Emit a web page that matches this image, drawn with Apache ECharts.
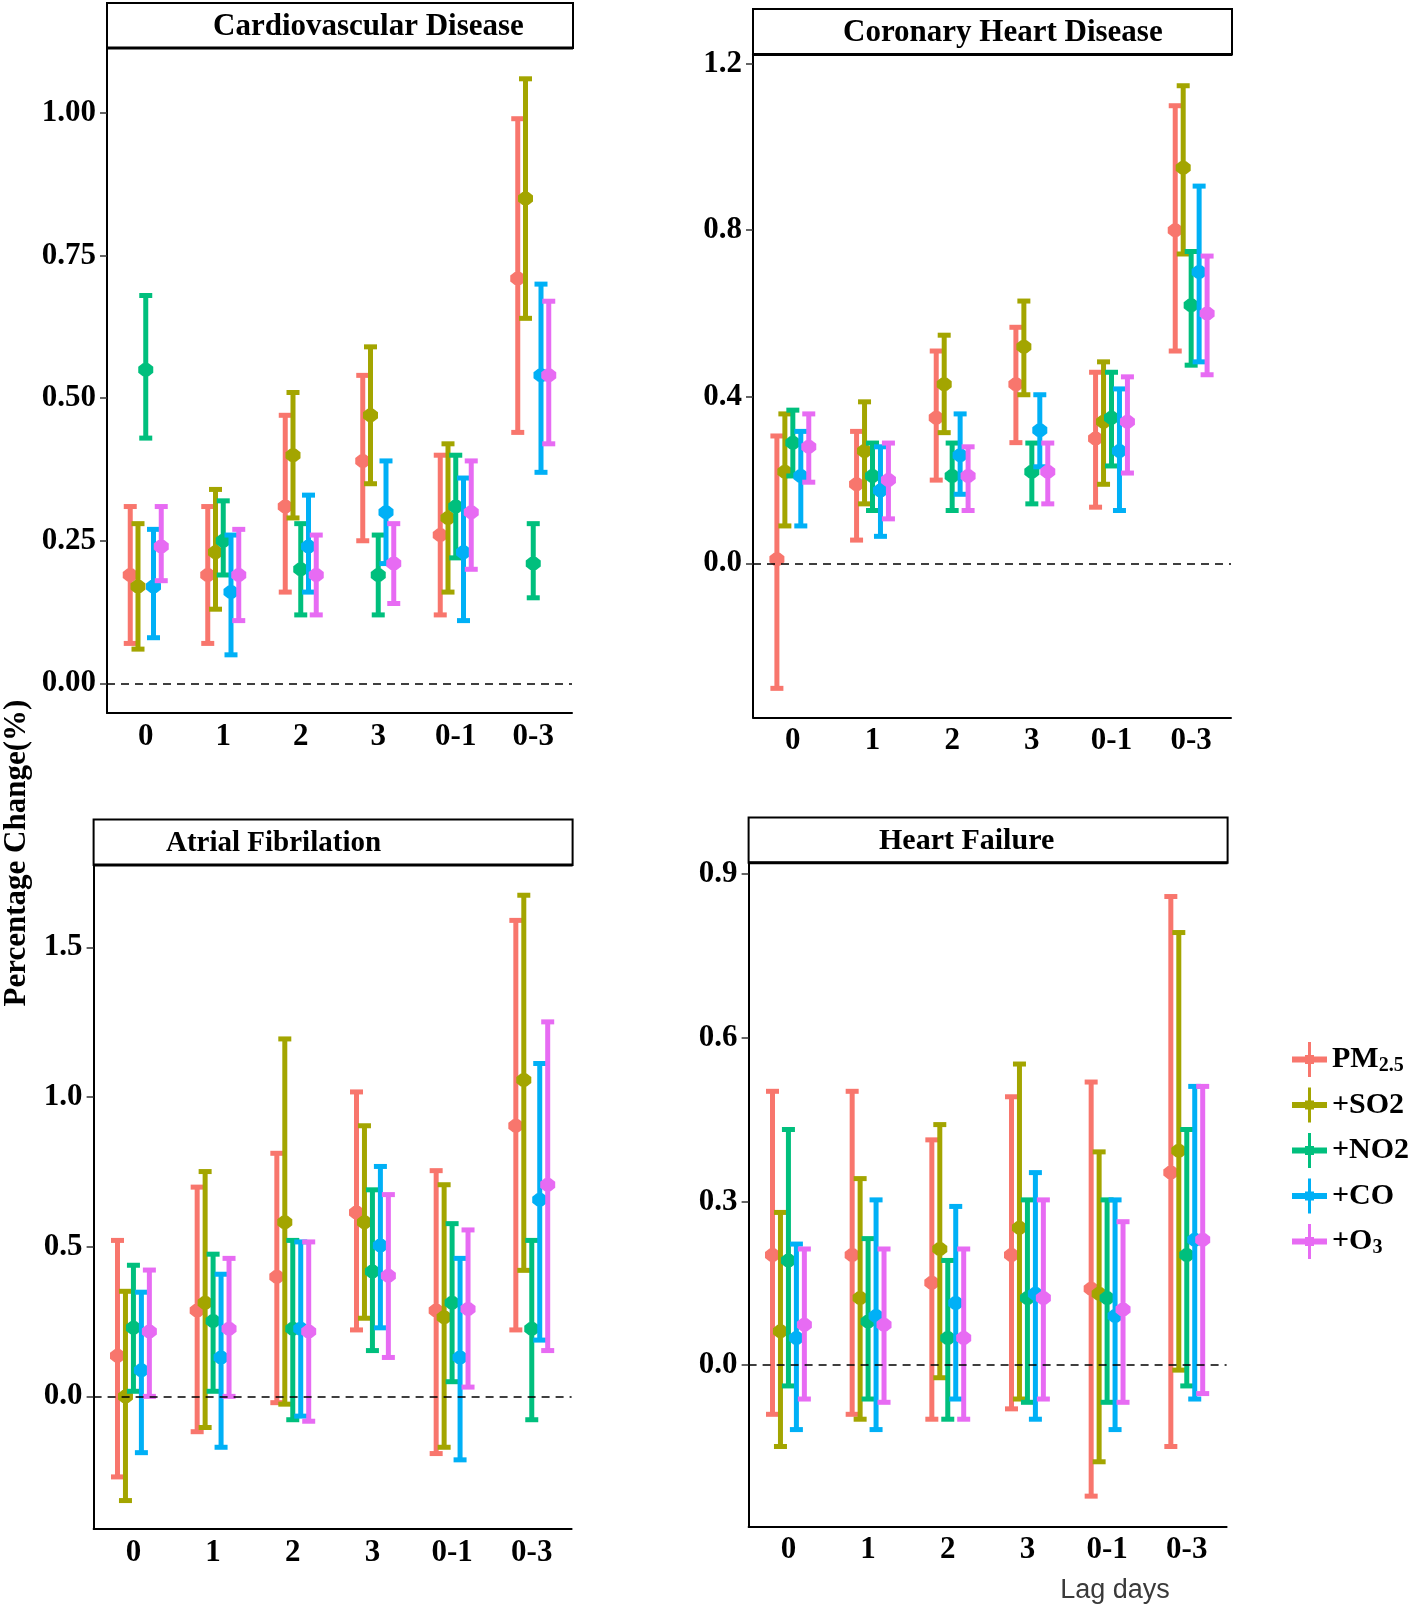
<!DOCTYPE html>
<html>
<head>
<meta charset="utf-8">
<script src="https://cdn.jsdelivr.net/npm/echarts@6/dist/echarts.min.js"></script>
<style>
  html, body { margin: 0; padding: 0; background: #fff; }
  #chart { width: 1418px; height: 1612px; }
</style>
</head>
<body>
<div id="chart"></div>
<script>
// lag days on x, five models per lag
const lagDays = ['0', '1', '2', '3', '0-1', '0-3']
const seriesNames = ['PM2.5', '+SO2', '+NO2', '+CO', '+O3']
const colors = ['#F8766D', '#A3A500', '#00BF7D', '#00B0F6', '#E76BF3']

// rows: PM2.5, +SO2, +NO2, +CO, +O3 ; cols: lagDays
const cvdEst = [
  [0.19, 0.19, 0.31, 0.39, 0.26, 0.71],
  [0.17, 0.23, 0.40, 0.47, 0.29, 0.85],
  [0.55, 0.25, 0.20, 0.19, 0.31, 0.21],
  [0.17, 0.16, 0.24, 0.30, 0.23, 0.54],
  [0.24, 0.19, 0.19, 0.21, 0.30, 0.54]
]
const cvdLow = [
  [0.07, 0.07, 0.16, 0.25, 0.12, 0.44],
  [0.06, 0.13, 0.29, 0.35, 0.16, 0.64],
  [0.43, 0.19, 0.12, 0.12, 0.22, 0.15],
  [0.08, 0.05, 0.16, 0.21, 0.11, 0.37],
  [0.18, 0.11, 0.12, 0.14, 0.20, 0.42]
]
const cvdHigh = [
  [0.31, 0.31, 0.47, 0.54, 0.40, 0.99],
  [0.28, 0.34, 0.51, 0.59, 0.42, 1.06],
  [0.68, 0.32, 0.28, 0.26, 0.40, 0.28],
  [0.27, 0.26, 0.33, 0.39, 0.36, 0.70],
  [0.31, 0.27, 0.26, 0.28, 0.39, 0.67]
]

const chdEst = [
  [0.01, 0.19, 0.35, 0.43, 0.30, 0.80],
  [0.22, 0.27, 0.43, 0.52, 0.34, 0.95],
  [0.29, 0.21, 0.21, 0.22, 0.35, 0.62],
  [0.21, 0.175, 0.26, 0.32, 0.27, 0.70],
  [0.28, 0.20, 0.21, 0.22, 0.34, 0.60]
]
const chdLow = [
  [-0.30, 0.056, 0.20, 0.29, 0.135, 0.51],
  [0.09, 0.143, 0.314, 0.405, 0.19, 0.743],
  [0.21, 0.127, 0.127, 0.143, 0.234, 0.476],
  [0.09, 0.065, 0.166, 0.232, 0.127, 0.484],
  [0.195, 0.107, 0.127, 0.143, 0.217, 0.453]
]
const chdHigh = [
  [0.306, 0.317, 0.51, 0.567, 0.459, 1.099],
  [0.359, 0.388, 0.548, 0.63, 0.484, 1.147],
  [0.368, 0.289, 0.289, 0.289, 0.459, 0.749],
  [0.317, 0.28, 0.359, 0.405, 0.419, 0.906],
  [0.359, 0.289, 0.28, 0.289, 0.448, 0.738]
]

const afEst = [
  [0.136, 0.287, 0.40, 0.614, 0.287, 0.904],
  [0.0, 0.313, 0.582, 0.582, 0.264, 1.057],
  [0.229, 0.252, 0.226, 0.417, 0.313, 0.226],
  [0.087, 0.13, 0.226, 0.504, 0.13, 0.657],
  [0.217, 0.226, 0.217, 0.403, 0.292, 0.707]
]
const afLow = [
  [-0.269, -0.118, -0.021, 0.222, -0.191, 0.222],
  [-0.348, -0.104, -0.026, 0.261, -0.17, 0.421],
  [0.017, 0.017, -0.078, 0.153, 0.049, -0.078],
  [-0.188, -0.17, -0.066, 0.229, -0.212, 0.188],
  [0.0, 0.0, -0.083, 0.13, 0.031, 0.153]
]
const afHigh = [
  [0.521, 0.699, 0.812, 1.017, 0.754, 1.59],
  [0.351, 0.751, 1.194, 0.904, 0.707, 1.674],
  [0.438, 0.475, 0.521, 0.69, 0.577, 0.521],
  [0.348, 0.408, 0.516, 0.768, 0.461, 1.112],
  [0.422, 0.461, 0.516, 0.674, 0.556, 1.251]
]

const hfEst = [
  [0.202, 0.202, 0.151, 0.202, 0.14, 0.353],
  [0.062, 0.123, 0.213, 0.252, 0.131, 0.393],
  [0.192, 0.08, 0.05, 0.123, 0.123, 0.202],
  [0.05, 0.09, 0.114, 0.131, 0.09, 0.23],
  [0.074, 0.074, 0.05, 0.123, 0.102, 0.23]
]
const hfLow = [
  [-0.09, -0.09, -0.099, -0.08, -0.24, -0.149],
  [-0.149, -0.099, -0.023, -0.062, -0.177, -0.009],
  [-0.038, -0.062, -0.099, -0.068, -0.068, -0.038],
  [-0.118, -0.118, -0.062, -0.099, -0.118, -0.062],
  [-0.062, -0.068, -0.099, -0.062, -0.068, -0.052]
]
const hfHigh = [
  [0.502, 0.502, 0.413, 0.492, 0.519, 0.859],
  [0.28, 0.342, 0.441, 0.552, 0.391, 0.793],
  [0.432, 0.232, 0.192, 0.303, 0.303, 0.432],
  [0.222, 0.303, 0.291, 0.353, 0.303, 0.511],
  [0.213, 0.213, 0.213, 0.303, 0.263, 0.511]
]

const cvdTicks = [0, 0.25, 0.5, 0.75, 1.0]
const chdTicks = [0, 0.4, 0.8, 1.2]
const afTicks = [0, 0.5, 1.0, 1.5]
const hfTicks = [0, 0.3, 0.6, 0.9]

const serif = "'Liberation Serif', 'Times New Roman', serif"

const panels = [
  { title: 'Cardiovascular Disease', est: cvdEst, low: cvdLow, high: cvdHigh, ticks: cvdTicks, digits: 2,
    min: -0.052, max: 1.114, grid: { left: 107, top: 48, width: 465, height: 665 }, boxTop: 3, titleX: 213, titleSize: 31 },
  { title: 'Coronary Heart Disease', est: chdEst, low: chdLow, high: chdHigh, ticks: chdTicks, digits: 1,
    min: -0.37, max: 1.222, grid: { left: 753, top: 54.5, width: 478, height: 663 }, boxTop: 9, titleX: 843, titleSize: 31 },
  { title: 'Atrial Fibrilation', est: afEst, low: afLow, high: afHigh, ticks: afTicks, digits: 1,
    min: -0.443, max: 1.775, grid: { left: 93.6, top: 865, width: 478, height: 664 }, boxTop: 819.6, titleX: 166, titleSize: 29 },
  { title: 'Heart Failure', est: hfEst, low: hfLow, high: hfHigh, ticks: hfTicks, digits: 1,
    min: -0.296, max: 0.921, grid: { left: 748.6, top: 862.7, width: 478, height: 664 }, boxTop: 817.5, titleX: 879, titleSize: 30 }
]

// one error bar: whisker, caps and a blob point, dodged by model
function errorBar(k, color) {
  return function (params, api) {
    const band = api.size([1, 0])[0]
    const off = (k - 2) * band * 0.1
    const lo = api.coord([api.value(0), api.value(1)])
    const hi = api.coord([api.value(0), api.value(2)])
    const pt = api.coord([api.value(0), api.value(3)])
    const x = lo[0] + off
    const y = pt[1]
    const line = { stroke: color, lineWidth: 5 }
    return {
      type: 'group',
      children: [
        { type: 'line', shape: { x1: x, y1: hi[1], x2: x, y2: lo[1] }, style: line },
        { type: 'line', shape: { x1: x - 6.5, y1: hi[1], x2: x + 6.5, y2: hi[1] }, style: line },
        { type: 'line', shape: { x1: x - 6.5, y1: lo[1], x2: x + 6.5, y2: lo[1] }, style: line },
        {
          type: 'polygon',
          shape: { points: [[x - 7.5, y - 3], [x - 3, y - 6.5], [x + 3, y - 6.5], [x + 7.5, y - 3],
                            [x + 7.5, y + 3], [x + 3, y + 6.5], [x - 3, y + 6.5], [x - 7.5, y + 3]] },
          style: { fill: color }
        }
      ]
    }
  }
}

const grids = []
const xAxes = []
const yAxes = []
const series = []
const graphics = []

panels.forEach((p, i) => {
  grids.push(p.grid)
  xAxes.push({
    type: 'category',
    gridIndex: i,
    data: lagDays,
    boundaryGap: true,
    axisLine: { onZero: false, lineStyle: { color: '#000', width: 2 } },
    axisTick: { alignWithLabel: true, length: 6, lineStyle: { color: '#333', width: 1.5 } },
    axisLabel: { color: '#000', fontFamily: serif, fontWeight: 'bold', fontSize: 31, margin: 8 },
    splitLine: { show: false }
  })
  yAxes.push({
    type: 'value',
    gridIndex: i,
    min: p.min,
    max: p.max,
    axisLine: { show: true, onZero: false, lineStyle: { color: '#000', width: 2 } },
    axisTick: { show: true, length: 7, customValues: p.ticks, lineStyle: { color: '#333', width: 1.5 } },
    axisLabel: {
      customValues: p.ticks,
      color: '#000', fontFamily: serif, fontWeight: 'bold', fontSize: 31, margin: 11,
      formatter: (v) => Number(v).toFixed(p.digits)
    },
    splitLine: { show: false }
  })
  // dashed zero reference
  series.push({
    type: 'line', xAxisIndex: i, yAxisIndex: i, data: [], z: 1, silent: true,
    markLine: {
      silent: true, symbol: ['none', 'none'], label: { show: false },
      lineStyle: { color: '#000', type: [8, 6], width: 1.6 },
      data: [{ yAxis: 0 }]
    }
  })
  seriesNames.forEach((name, k) => {
    series.push({
      type: 'custom',
      name,
      xAxisIndex: i,
      yAxisIndex: i,
      z: 2,
      itemStyle: { color: colors[k] },
      renderItem: errorBar(k, colors[k]),
      encode: { x: 0, y: [1, 2, 3] },
      data: lagDays.map((_, j) => [j, p.low[k][j], p.high[k][j], p.est[k][j]])
    })
  })
  const g = p.grid
  graphics.push({
    type: 'rect', silent: true,
    shape: { x: g.left, y: p.boxTop, width: g.width + 1, height: g.top - p.boxTop },
    style: { fill: '#fff', stroke: '#000', lineWidth: 2 }
  })
  graphics.push({
    type: 'line', silent: true,
    shape: { x1: g.left, y1: g.top, x2: g.left + g.width + 1, y2: g.top },
    style: { stroke: '#000', lineWidth: 3 }
  })
  graphics.push({
    type: 'text', silent: true,
    x: p.titleX, y: (p.boxTop + g.top) / 2 + 1,
    style: { text: p.title, fontFamily: serif, fontWeight: 'bold', fontSize: p.titleSize, fill: '#000', align: 'left', verticalAlign: 'middle' }
  })
})

graphics.push({
  type: 'text', silent: true, x: 17, y: 853, rotation: Math.PI / 2,
  style: { text: 'Percentage Change(%)', fontFamily: serif, fontWeight: 'bold', fontSize: 31, fill: '#000', align: 'center', verticalAlign: 'middle' }
})
graphics.push({
  type: 'text', silent: true, x: 1115, y: 1591,
  style: { text: 'Lag days', fontFamily: "'Liberation Sans', Arial, sans-serif", fontSize: 27, fill: '#3a3a3a', align: 'center', verticalAlign: 'middle' }
})

const chart = echarts.init(document.getElementById('chart'))
chart.setOption({
  backgroundColor: '#fff',
  animation: false,
  grid: grids,
  xAxis: xAxes,
  yAxis: yAxes,
  legend: {
    data: seriesNames,
    orient: 'vertical',
    left: 1292,
    top: 1042,
    padding: 0,
    itemWidth: 35,
    itemHeight: 35,
    itemGap: 10.5,
    icon: 'path://M0,14.5H35V20.5H0Z M16,0H19V35H16Z M13,13H22V22H13Z',
    formatter: (name) => {
      if (name === 'PM2.5') return 'PM{s|2.5}'
      if (name === '+O3') return '+O{s|3}'
      return name
    },
    textStyle: {
      color: '#000', fontFamily: serif, fontWeight: 'bold', fontSize: 30,
      rich: { s: { fontFamily: serif, fontWeight: 'bold', fontSize: 20, padding: [12, 0, 0, 0] } }
    }
  },
  graphic: graphics,
  series
})
</script>
</body>
</html>
